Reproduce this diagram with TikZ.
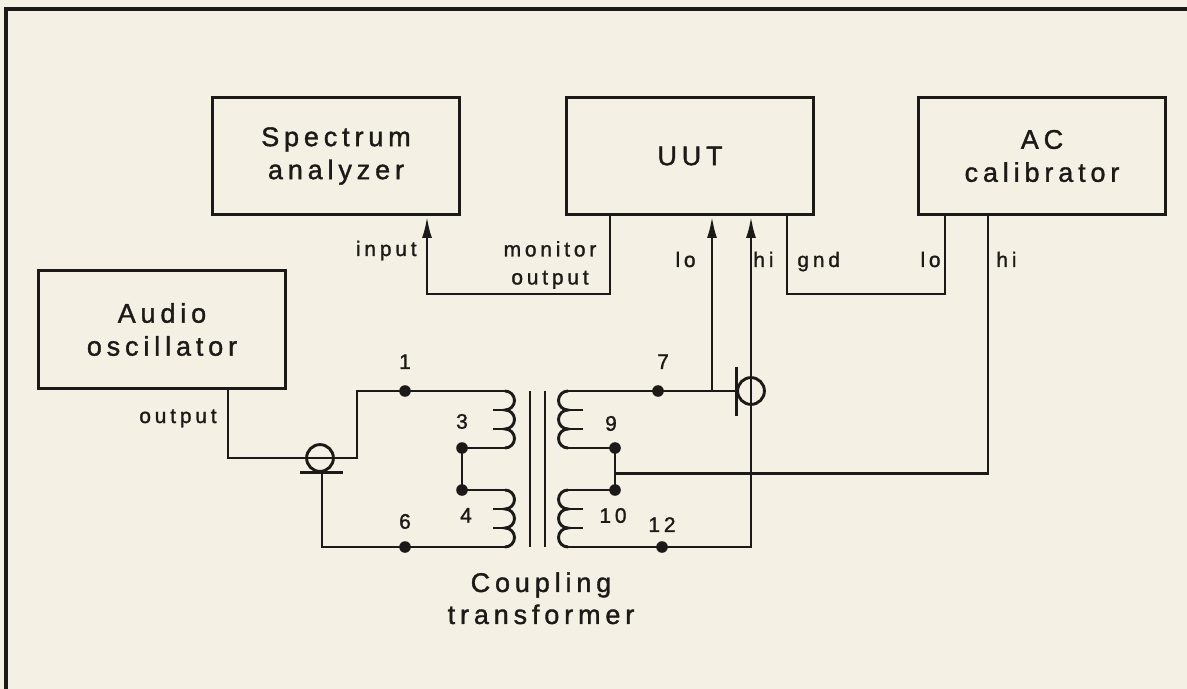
\documentclass[tikz,border=0pt]{standalone}
\usepackage{fontspec}
\newfontfamily\labelfont[LetterSpace=18,FakeBold=1.3]{Liberation Sans}
\usetikzlibrary{positioning,arrows.meta,calc}
\definecolor{paper}{RGB}{244,240,228}
\definecolor{ink}{RGB}{28,26,24}
\tikzset{
     device/.style={draw=ink, line width=1.5pt, minimum width=123.5pt, minimum height=58.5pt,
                    align=center, text=ink, font=\labelfont\fontsize{13.5}{16.5}\selectfont},
     wire/.style={draw=ink, line width=1.45pt},
     arrow/.style={-{Latex[length=11pt,width=5pt]}},
     junction/.style={circle, fill=ink, inner sep=0pt, minimum size=5.8pt},
     coax/.style={circle, draw=ink, line width=1.45pt, inner sep=0pt, minimum size=13.4pt},
     smalltext/.style={text=ink, inner sep=0pt, font=\labelfont\fontsize{10.5}{14}\selectfont},
     numlabel/.style={smalltext},
     caption/.style={text=ink, inner sep=0pt, align=center, font=\labelfont\fontsize{13.5}{16}\selectfont}
     }

\begin{document}
\begin{tikzpicture}[x=0.5pt, y=-0.5pt]
                    \fill[paper] (0,0) rectangle (1187,689);
                    \useasboundingbox (0,0) rectangle (1187,689);
                    \draw[ink, line width=1.7pt] (6,689) -- (6,9) -- (1187,9);
                    % Place nodes
                    \node[device] (spec) at (336,156) {Spectrum\\analyzer};
                    \node[device] (uut) at (690,156) {UUT};
                    \node[device] (acc) at (1042,156) {AC\\calibrator};
                    \node[device] (osc) at (162,329.5) {Audio\\oscillator};
                    % box terminals
                    \coordinate (specin) at ([xshift=45.5pt]spec.south);
                    \coordinate (uutmon) at ([xshift=-40pt]uut.south);
                    \coordinate (uutlo) at ([xshift=11pt]uut.south);
                    \coordinate (uuthi) at ([xshift=30.5pt]uut.south);
                    \coordinate (uutgnd) at ([xshift=48.5pt]uut.south);
                    \coordinate (acclo) at ([xshift=-48.5pt]acc.south);
                    \coordinate (acchi) at ([xshift=-27pt]acc.south);
                    \coordinate (oscout) at ([xshift=33pt]osc.south);
                    % transformer windings
                    \coordinate (prA) at (505,391);
                    \coordinate (prB) at (505,448);
                    \coordinate (prC) at (505,490);
                    \coordinate (prD) at (505,547);
                    \coordinate (seA) at (568,391);
                    \coordinate (seB) at (568,448);
                    \coordinate (seC) at (568,490);
                    \coordinate (seD) at (568,547);
                    \foreach \c in {prA,prC} {
                         \draw[wire] (\c) arc[start angle=90, end angle=-90, radius=4.75pt]
                              arc[start angle=90, end angle=-90, radius=4.75pt]
                              arc[start angle=90, end angle=-90, radius=4.75pt];
                         \draw[wire] ([yshift=-9.5pt]\c) -- ++(-12,0);
                         \draw[wire] ([yshift=-19pt]\c) -- ++(-12,0);
                    }
                    \foreach \c in {seA,seC} {
                         \draw[wire] (\c) arc[start angle=90, end angle=270, radius=4.75pt]
                              arc[start angle=90, end angle=270, radius=4.75pt]
                              arc[start angle=90, end angle=270, radius=4.75pt];
                         \draw[wire] ([yshift=-9.5pt]\c) -- ++(15,0);
                         \draw[wire] ([yshift=-19pt]\c) -- ++(15,0);
                    }
                    % core
                    \draw[wire] (530,391) -- (530,547);
                    \draw[wire] (545,391) -- (545,547);
                    % terminals
                    \node[junction] (t1) at (405,391) {};
                    \node[junction] (t3) at (462,448) {};
                    \node[junction] (t4) at (462,490) {};
                    \node[junction] (t6) at (405,547) {};
                    \node[junction] (t7) at (658,391) {};
                    \node[junction] (t9) at (615,448) {};
                    \node[junction] (t10) at (615,490) {};
                    \node[junction] (t12) at (662,547) {};
                    \node[numlabel, above=7.75pt of t1] (n1) {1};
                    \node[numlabel, above=6.25pt of t3] (n3) {3};
                    \node[numlabel, below=5.75pt of t4, xshift=2pt] (n4) {4};
                    \node[numlabel, above=5.75pt of t6] (n6) {6};
                    \node[numlabel, above=7.75pt of t7, xshift=2.5pt] (n7) {7};
                    \node[numlabel, above=5.25pt of t9, xshift=-2pt] (n9) {9};
                    \node[numlabel, below=5.75pt of t10, xshift=-1pt] (n10) {10};
                    \node[numlabel, above=4.25pt of t12] (n12) {12};
                    % coax connectors
                    \node[coax] (cxA) at (320,458) {};
                    \node[coax] (cxB) at (751,391) {};
                    \draw[wire] ([xshift=-10pt]cxA.south) -- ([xshift=11.5pt]cxA.south);
                    \draw[wire] ([yshift=12pt]cxB.west) -- ([yshift=-12.5pt]cxB.west);
                    % Draw edges
                    \draw[wire] (oscout) |- (cxA.center) -- ++(37,0) |- (prA);
                    \draw[wire] ([xshift=1pt]cxA.south) |- (prD);
                    \draw[wire] (prB) -- (t3.center) -- (t4.center) -- (prC);
                    \draw[wire] (seB) -- (t9.center) -- (t10.center) -- (seC);
                    \coordinate (ctap) at ($(t9)!0.6!(t10)$);
                    \draw[wire] (seA) -- (cxB.west);
                    \coordinate (jlo) at (uutlo |- seA);
                    \draw[wire, arrow] (jlo) -- (uutlo);
                    \draw[wire, arrow] (seD) -| (uuthi);
                    \draw[wire] (ctap) -| (acchi);
                    \draw[wire, arrow] (uutmon) -- ++(0,78) -| (specin);
                    \draw[wire] (uutgnd) -- ++(0,78) -| (acclo);
                    % connector labels
                    \node[smalltext, anchor=base east] (lin) at (417,256) {input};
                    \node[smalltext, align=center] (lmon) at (550,265) {monitor\\output};
                    \node[smalltext, anchor=base east] (lout) at (217,423) {output};
                    \node[smalltext, anchor=base east] (luutlo) at (696,267) {lo};
                    \node[smalltext, anchor=base west] (luuthi) at (753,267) {hi};
                    \node[smalltext, anchor=base west] (lgnd) at (797,267) {gnd};
                    \node[smalltext, anchor=base east] (lacclo) at (941,267) {lo};
                    \node[smalltext, anchor=base west] (lacchi) at (996,267) {hi};
                    \node[caption, anchor=north] (ctitle) at (541,572) {Coupling\\transformer};
                \end{tikzpicture}
\end{document}
